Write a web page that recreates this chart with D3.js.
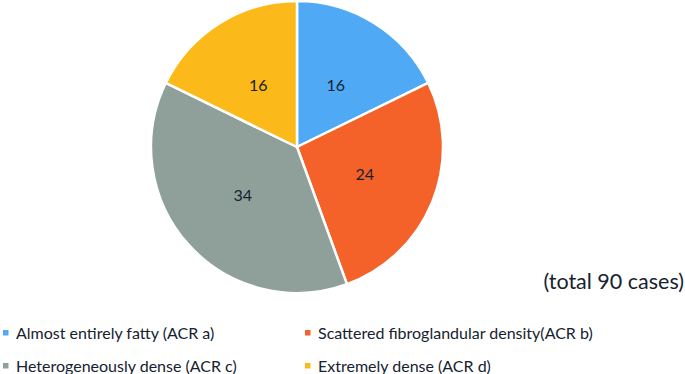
<!DOCTYPE html>
<html>
<head>
<meta charset="utf-8">
<script src="https://cdn.jsdelivr.net/npm/d3@7"></script>
<style>
  body { margin: 0; background: #fff; }
  text { font-family: Lato, "Open Sans", sans-serif; fill: #16222f; }
</style>
</head>
<body>
<script>

  const width = 685,
        height = 374

  // data
  const categories = ['Almost entirely fatty (ACR a)',
                      'Scattered fibroglandular density(ACR b)',
                      'Heterogeneously dense (ACR c)',
                      'Extremely dense (ACR d)']
  const counts = [16, 24, 34, 16]
  const sliceColors = ['#4fa9f5', '#f4622a', '#8fa09b', '#fcb91a']
  const totalLabel = '(total 90 cases)'

  const center = {x: 297, y: 147},
        radius = 146

  const svg = d3.select("body")
    .append("svg")
      .attr("width", width)
      .attr("height", height)

  const pie = d3.pie()
    .sort(null)
    .value(d => d)

  const arc = d3.arc()
    .innerRadius(0)
    .outerRadius(radius)

  const arcs = pie(counts)

  const pieG = svg.append("g")
    .attr("transform", `translate(${center.x}, ${center.y})`)

  pieG.selectAll(".slice")
    .data(arcs)
    .enter()
    .append("path")
      .attr("class", "slice")
      .attr("d", arc)
      .attr("fill", (d, i) => sliceColors[i])
      .attr("stroke", "#fff")
      .attr("stroke-width", 2.5)
      .attr("stroke-linejoin", "round")

  pieG.selectAll(".sliceLabel")
    .data(arcs)
    .enter()
    .append("text")
      .attr("class", "sliceLabel")
      .attr("transform", d => `translate(${arc.centroid(d)})`)
      .attr("dy", "0.35em")
      .style("text-anchor", "middle")
      .style("font-size", "16px")
      .text(d => d.data)

  svg.append("text")
    .attr("x", 684)
    .attr("y", 289)
    .style("text-anchor", "end")
    .style("font-size", "21.5px")
    .text(totalLabel)

  // legend, 2 columns
  const legendX = [3, 305],
        legendY = [333, 366]

  const legend = svg.selectAll(".legendItem")
    .data(categories)
    .enter()
    .append("g")
      .attr("class", "legendItem")
      .attr("transform", (d, i) => `translate(${legendX[i % 2]}, ${legendY[Math.floor(i / 2)]})`)

  legend.append("rect")
    .attr("x", 0)
    .attr("y", -3)
    .attr("width", 5.5)
    .attr("height", 5.5)
    .attr("fill", (d, i) => sliceColors[i])

  legend.append("text")
    .attr("x", 13)
    .attr("dy", "0.36em")
    .style("font-size", "16px")
    .text(d => d)

</script>
</body>
</html>
